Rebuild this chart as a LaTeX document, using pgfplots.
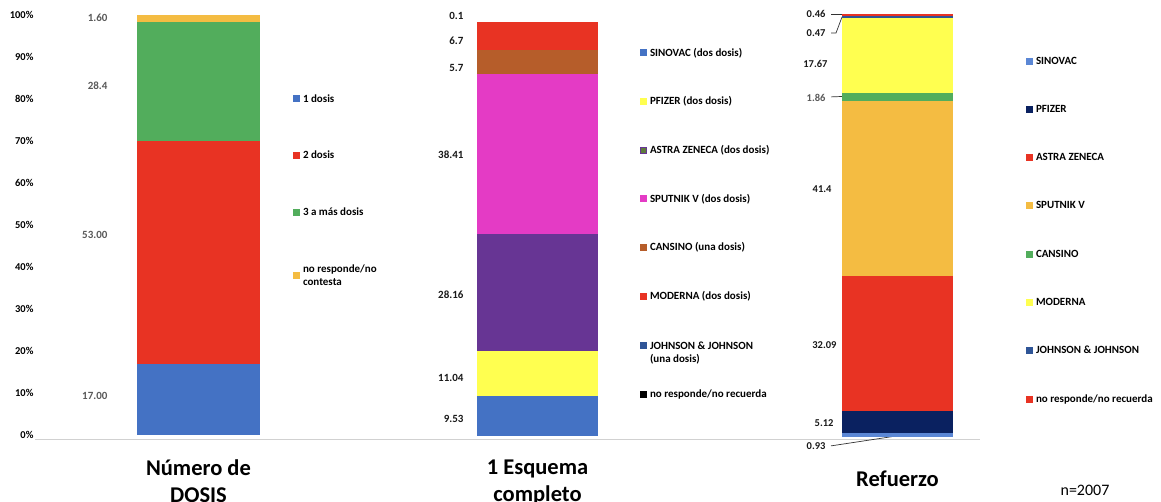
\documentclass[border=0pt]{standalone}
\usepackage{pgfplots}
\pgfplotsset{compat=1.18}
\usepackage{fontspec}
\setmainfont{Carlito}
\definecolor{cblue}{HTML}{4472C4}
\definecolor{cred}{HTML}{E83323}
\definecolor{cgreen}{HTML}{52AD5C}
\definecolor{corange}{HTML}{F4BC42}
\definecolor{cyellow}{HTML}{FFFF50}
\definecolor{cpurple}{HTML}{673594}
\definecolor{cmagenta}{HTML}{E43BC5}
\definecolor{cbrown}{HTML}{B65D2A}
\definecolor{cjj}{HTML}{2F5597}
\definecolor{cnavy}{HTML}{0A2160}
\definecolor{clightblue}{HTML}{5B87D5}
\definecolor{colive}{HTML}{5E7A3C}
\definecolor{labgray}{HTML}{595959}
\definecolor{leadc}{HTML}{333333}

\tikzset{
  vlA/.style={anchor=east, text=labgray, font=\bfseries\fontsize{11}{13}\selectfont},
  vlB/.style={anchor=east, text=black!90, font=\bfseries\fontsize{11}{13}\selectfont},
  vlC/.style={anchor=east, text=black!90, font=\bfseries\fontsize{10.5}{12}\selectfont},
}
\pgfplotsset{
  sqlegend/.style={legend image code/.code={\fill[##1] (0pt,-3.5pt) rectangle (7pt,3.5pt);}},
  panel/.style={
    scale only axis, ybar stacked, ymin=0, ymax=100, enlargelimits=false, clip=false,
    axis line style={draw=none}, tick style={draw=none}, major tick length=0pt,
    ytick=\empty, sqlegend,
    xticklabel style={font=\bfseries\fontsize{22.5}{27}\selectfont, align=center, text=black},
    legend style={draw=none, fill=none, anchor=north west, inner sep=0pt, outer sep=0pt,
      font=\bfseries\fontsize{11}{13.5}\selectfont, cells={anchor=west, align=left},
      column sep=1pt},
    legend cell align=left,
  },
}

\begin{document}
\begin{tikzpicture}[x=1pt,y=1pt]
\draw[color=black!18, line width=0.8pt] (35,62) -- (980,62);

% ---------- Panel 1 ----------
\begin{axis}[panel, at={(35pt,66pt)}, anchor=south west,
  width=225pt, height=420pt, xmin=35, xmax=260, bar width=123pt,
  xtick={198.5}, xticklabels={{Número de\\DOSIS}},
  xticklabel style={yshift=-21pt},
  ytick={0,10,...,100},
  yticklabels={0\%,10\%,20\%,30\%,40\%,50\%,60\%,70\%,80\%,90\%,100\%},
  yticklabel style={font=\bfseries\fontsize{10.5}{12}\selectfont, anchor=east, xshift=2pt},
  legend style={at={(1.1467,0.816)}, row sep=43.5pt}]
\addplot[fill=cblue, draw=none] coordinates {(198.5,17.00)}; \addlegendentry{1 dosis}
\addplot[fill=cred, draw=none] coordinates {(198.5,53.00)}; \addlegendentry{2 dosis}
\addplot[fill=cgreen, draw=none] coordinates {(198.5,28.4)}; \addlegendentry{3 a más dosis}
\addplot[fill=corange, draw=none] coordinates {(198.5,1.60)}; \addlegendentry{no responde/no\\contesta}
\node[vlA] at (axis cs:111,99.3) {1.60};
\node[vlA] at (axis cs:111,83.1) {28.4};
\node[vlA] at (axis cs:111,47.6) {53.00};
\node[vlA] at (axis cs:111,9.3) {17.00};
\end{axis}

% ---------- Panel 2 ----------
\begin{axis}[panel, at={(400pt,65pt)}, anchor=south west,
  width=220pt, height=415.5pt, xmin=400, xmax=620, bar width=121pt,
  xtick={537.5}, xticklabels={{1 Esquema\\completo}},
  xticklabel style={yshift=-20pt},
  legend style={at={(1.0909,0.939)}, row sep=35pt}]
\addplot[fill=cblue, draw=none] coordinates {(537.5,9.53)}; \addlegendentry{SINOVAC (dos dosis)}
\addplot[fill=cyellow, draw=none] coordinates {(537.5,11.04)}; \addlegendentry{PFIZER (dos dosis)}
\addplot[fill=cpurple, draw=none, legend image code/.code={\draw[draw=cpurple, fill=colive, line width=0.8pt] (0.4pt,-3.1pt) rectangle (6.6pt,3.1pt);}] coordinates {(537.5,28.16)}; \addlegendentry{ASTRA ZENECA (dos dosis)}
\addplot[fill=cmagenta, draw=none] coordinates {(537.5,38.41)}; \addlegendentry{SPUTNIK V (dos dosis)}
\addplot[fill=cbrown, draw=none] coordinates {(537.5,5.7)}; \addlegendentry{CANSINO (una dosis)}
\addplot[fill=cred, draw=none] coordinates {(537.5,6.7)}; \addlegendentry{MODERNA (dos dosis)}
\addplot[fill=cjj, draw=none] coordinates {(537.5,0)}; \addlegendentry{\raisebox{0pt}[\height][0pt]{\begin{tabular}[t]{@{}l@{}}JOHNSON \& JOHNSON\\(una dosis)\end{tabular}}}
\addplot[fill=black, draw=none] coordinates {(537.5,0.1)}; \addlegendentry{no responde/no recuerda}
\node[vlB] at (axis cs:467,101.1) {0.1};
\node[vlB] at (axis cs:467,95.1) {6.7};
\node[vlB] at (axis cs:467,88.6) {5.7};
\node[vlB] at (axis cs:467,67.6) {38.41};
\node[vlB] at (axis cs:467,33.9) {28.16};
\node[vlB] at (axis cs:467,14.0) {11.04};
\node[vlB] at (axis cs:467,4.1) {9.53};
\end{axis}

% ---------- Panel 3 ----------
\begin{axis}[panel, at={(780pt,64pt)}, anchor=south west,
  width=200pt, height=423pt, xmin=780, xmax=980, bar width=111pt,
  xtick={897.5}, xticklabels={{Refuerzo}},
  xticklabel style={yshift=-30pt},
  legend style={at={(1.23,0.903)}, row sep=35.5pt}]
\addplot[fill=clightblue, draw=none] coordinates {(897.5,0.93)}; \addlegendentry{SINOVAC}
\addplot[fill=cnavy, draw=none] coordinates {(897.5,5.12)}; \addlegendentry{PFIZER}
\addplot[fill=cred, draw=none] coordinates {(897.5,32.09)}; \addlegendentry{ASTRA ZENECA}
\addplot[fill=corange, draw=none] coordinates {(897.5,41.4)}; \addlegendentry{SPUTNIK V}
\addplot[fill=cgreen, draw=none] coordinates {(897.5,1.86)}; \addlegendentry{CANSINO}
\addplot[fill=cyellow, draw=none] coordinates {(897.5,17.67)}; \addlegendentry{MODERNA}
\addplot[fill=cjj, draw=none] coordinates {(897.5,0.47)}; \addlegendentry{JOHNSON \& JOHNSON}
\addplot[fill=cred, draw=none] coordinates {(897.5,0.46)}; \addlegendentry{no responde/no recuerda}
\draw[leadc, line width=0.7pt] (axis cs:831,100) -- (axis cs:898,100);
\draw[leadc, line width=0.7pt] (axis cs:831,95.5) -- (axis cs:836,95.5) -- (axis cs:842,99.3);
\draw[leadc, line width=0.7pt] (axis cs:831,80.4) -- (axis cs:842,80.5);
\draw[leadc, line width=0.7pt] (axis cs:831,-2.1) -- (axis cs:898,0.3);
\node[vlC] at (axis cs:829,100.0) {0.46};
\node[vlC] at (axis cs:829,95.5) {0.47};
\node[vlC] at (axis cs:831,88.2) {17.67};
\node[vlC, text=labgray] at (axis cs:829,80.1) {1.86};
\node[vlC] at (axis cs:835,58.6) {41.4};
\node[vlC] at (axis cs:840,21.7) {32.09};
\node[vlC] at (axis cs:837,3.3) {5.12};
\node[vlC] at (axis cs:829,-2.1) {0.93};
\end{axis}

\node[font=\fontsize{16}{19}\selectfont] at (1085,11) {n=2007};
\pgfresetboundingbox
\useasboundingbox (0,0) rectangle (1161,501);
\end{tikzpicture}
\end{document}
